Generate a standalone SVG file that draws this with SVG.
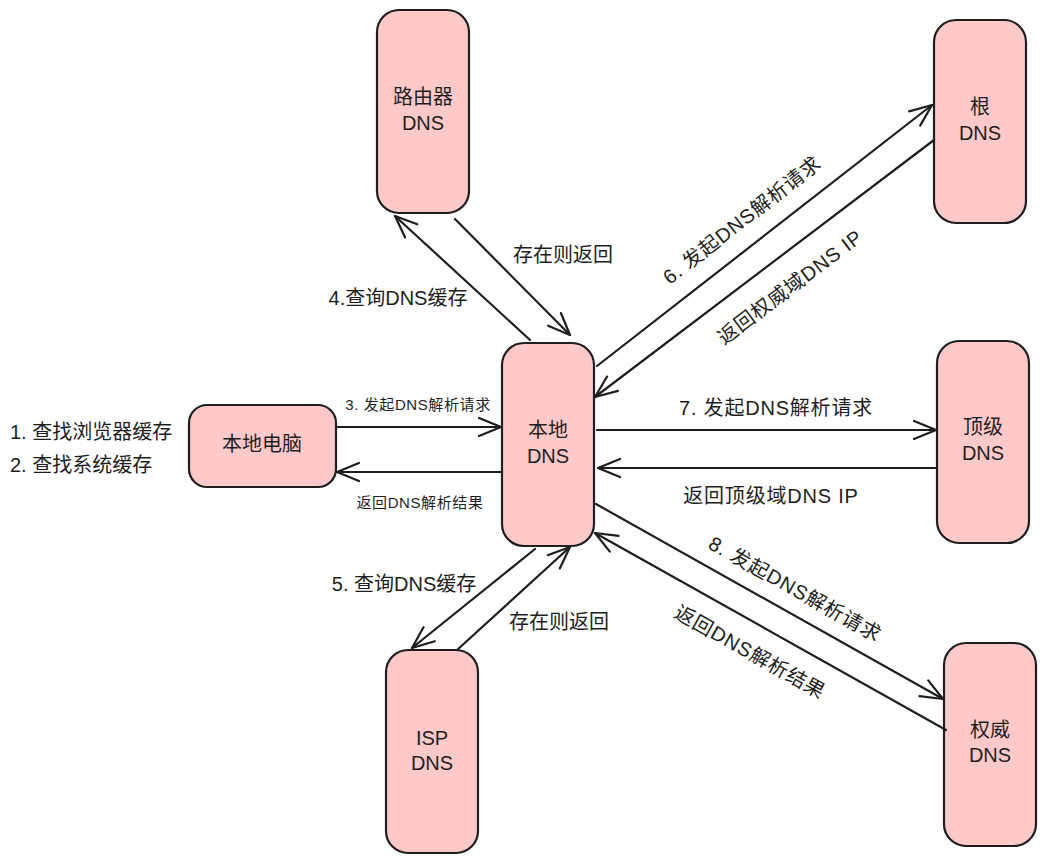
<svg xmlns="http://www.w3.org/2000/svg" width="1046" height="863" viewBox="0 0 1046 863">
<style>
.box{fill:#ffc9c9;stroke:#1e1e1e;stroke-width:2.2}
text{font-family:"Liberation Sans","Noto Sans CJK SC",sans-serif;fill:#1e1e1e;font-size:20px;dominant-baseline:central}
.c{text-anchor:middle}
.s{font-size:15px;letter-spacing:0.6px}
.w{letter-spacing:0.8px}
.ln{stroke:#1e1e1e;stroke-width:2.2;fill:none;stroke-linecap:round}
</style>
<defs>
<marker id="ah" markerUnits="userSpaceOnUse" orient="auto" refX="0" refY="0" markerWidth="30" markerHeight="30" overflow="visible">
<path d="M-22,-9 L0,0 L-22,9" fill="none" stroke="#1e1e1e" stroke-width="2.2" stroke-linecap="round" stroke-linejoin="round"/>
</marker>
</defs>
<g id="router"><rect class="box" x="377" y="10" width="92" height="203" rx="22"/><text class="c" x="423" y="97">路由器</text><text class="c" x="423" y="123">DNS</text></g>
<g id="root"><rect class="box" x="934" y="20" width="92" height="203" rx="22"/><text class="c" x="980" y="107">根</text><text class="c" x="980" y="133">DNS</text></g>
<g id="pc"><rect class="box" x="189" y="405" width="147" height="82" rx="18"/><text class="c" x="262" y="444">本地电脑</text></g>
<g id="local"><rect class="box" x="502" y="343" width="92" height="203" rx="22"/><text class="c" x="548" y="430">本地</text><text class="c" x="548" y="456">DNS</text></g>
<g id="tld"><rect class="box" x="937" y="341" width="92" height="202" rx="22"/><text class="c" x="983" y="427">顶级</text><text class="c" x="983" y="453">DNS</text></g>
<g id="isp"><rect class="box" x="386" y="650" width="92" height="203" rx="22"/><text class="c" x="432" y="738">ISP</text><text class="c" x="432" y="763">DNS</text></g>
<g id="auth"><rect class="box" x="944" y="643" width="92" height="203" rx="22"/><text class="c" x="990" y="730">权威</text><text class="c" x="990" y="755">DNS</text></g>
<g id="notes"><text x="10" y="432">1. 查找浏览器缓存</text><text x="10" y="465">2. 查找系统缓存</text></g>
<g id="connectors">
<line class="ln" x1="336" y1="427" x2="501" y2="427" marker-end="url(#ah)"/>
<line class="ln" x1="502" y1="472" x2="337" y2="472" marker-end="url(#ah)"/>
<line class="ln" x1="530" y1="340" x2="395" y2="216" marker-end="url(#ah)"/>
<line class="ln" x1="455" y1="219" x2="570" y2="335" marker-end="url(#ah)"/>
<line class="ln" x1="597" y1="366" x2="932" y2="105" marker-end="url(#ah)"/>
<line class="ln" x1="934" y1="140" x2="595" y2="397" marker-end="url(#ah)"/>
<line class="ln" x1="597" y1="430" x2="936" y2="430" marker-end="url(#ah)"/>
<line class="ln" x1="937" y1="468" x2="598" y2="468" marker-end="url(#ah)"/>
<line class="ln" x1="596" y1="504" x2="943" y2="699" marker-end="url(#ah)"/>
<line class="ln" x1="946" y1="730" x2="595" y2="533" marker-end="url(#ah)"/>
<line class="ln" x1="535" y1="549" x2="412" y2="648" marker-end="url(#ah)"/>
<line class="ln" x1="457" y1="650" x2="570" y2="547" marker-end="url(#ah)"/>
</g>
<g id="labels">
<text class="c s" x="418" y="404">3. 发起DNS解析请求</text>
<text class="c s" x="420" y="502">返回DNS解析结果</text>
<text class="c" x="398" y="298">4.查询DNS缓存</text>
<text class="c" x="563" y="255">存在则返回</text>
<text class="c w" transform="translate(742,220) rotate(-37.9)">6. 发起DNS解析请求</text>
<text class="c w" transform="translate(790,287) rotate(-37)">返回权威域DNS IP</text>
<text class="c w" x="776" y="408">7. 发起DNS解析请求</text>
<text class="c w" x="771" y="496">返回顶级域DNS IP</text>
<text class="c w" transform="translate(795,589) rotate(29.2)">8. 发起DNS解析请求</text>
<text class="c w" transform="translate(750,652) rotate(29.2)">返回DNS解析结果</text>
<text class="c" x="404" y="584">5. 查询DNS缓存</text>
<text class="c" x="559" y="622">存在则返回</text>
</g>
</svg>
